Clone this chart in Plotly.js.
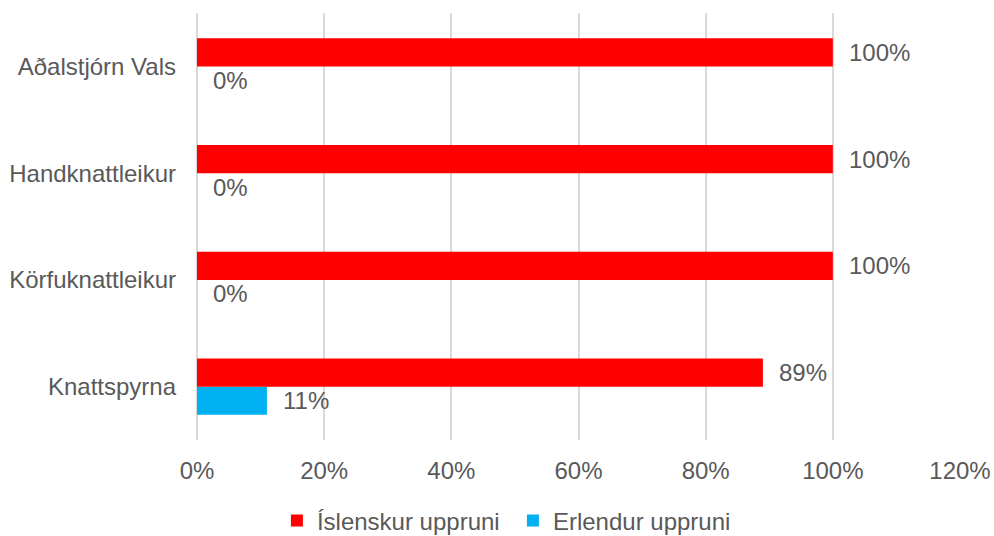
<!DOCTYPE html>
<html>
<head>
<meta charset="utf-8">
<script src="https://cdn.plot.ly/plotly-3.0.1.min.js"></script>
<style>html,body{margin:0;padding:0;background:#fff;}#chart{width:994px;height:536px;}</style>
</head>
<body>
<div id="chart"></div>
<script>
const categories = ["Knattspyrna", "Körfuknattleikur", "Handknattleikur", "Aðalstjórn Vals"];
const seriesNames = ["Íslenskur uppruni", "Erlendur uppruni"];
const islenskur = [0.89, 1.00, 1.00, 1.00];
const erlendur = [0.11, 0.00, 0.00, 0.00];
const tickVals = [0, 0.2, 0.4, 0.6, 0.8, 1.0, 1.2];
const tickText = ["0%", "20%", "40%", "60%", "80%", "100%", "120%"];

const font = "Liberation Sans, Arial, sans-serif";
const grey = "#595959";
const fs = 24;

const traces = [
  {type: "bar", orientation: "h", name: seriesNames[1], y: categories, x: erlendur,
   marker: {color: "#00B0F0"}, hoverinfo: "x+y"},
  {type: "bar", orientation: "h", name: seriesNames[0], y: categories, x: islenskur,
   marker: {color: "#FF0000"}, hoverinfo: "x+y"}
];

const annotations = [];
categories.forEach((c, i) => {
  annotations.push({x: islenskur[i], y: i, yshift: 14, xref: "x", yref: "y",
    text: Math.round(islenskur[i] * 100) + "%", showarrow: false, xanchor: "left",
    xshift: 14, font: {family: font, size: fs, color: grey}});
  annotations.push({x: erlendur[i], y: i, yshift: -14, xref: "x", yref: "y",
    text: Math.round(erlendur[i] * 100) + "%", showarrow: false, xanchor: "left",
    xshift: 14, font: {family: font, size: fs, color: grey}});
});

const layout = {
  width: 994, height: 536,
  margin: {l: 197, r: 34, t: 13, b: 96},
  paper_bgcolor: "#fff", plot_bgcolor: "#fff",
  barmode: "group", bargap: 0.475, bargroupgap: 0,
  font: {family: font, size: fs, color: grey},
  xaxis: {range: [0, 1.2], tickvals: tickVals, ticktext: tickText,
    showgrid: true, gridcolor: "#D9D9D9", gridwidth: 2,
    zeroline: true, zerolinecolor: "#D9D9D9", zerolinewidth: 2,
    showline: false, ticks: "", ticklabelstandoff: 14, automargin: false,
    tickfont: {family: font, size: fs, color: grey}, fixedrange: true},
  yaxis: {categoryorder: "array", categoryarray: categories,
    showgrid: false, zeroline: false, showline: false, ticks: "",
    ticklabelstandoff: 20, automargin: false,
    tickfont: {family: font, size: fs, color: grey}, fixedrange: true},
  showlegend: true,
  legend: {orientation: "h", x: 0.516, xref: "container", xanchor: "center",
    y: 0.028, yref: "container", yanchor: "middle",
    traceorder: "reversed", font: {family: font, size: fs, color: grey},
    itemwidth: 30, itemsizing: "constant", entrywidth: 191, entrywidthmode: "pixels"},
  annotations: annotations
};

Plotly.newPlot("chart", traces, layout, {displayModeBar: false, staticPlot: true});
</script>
</body>
</html>
